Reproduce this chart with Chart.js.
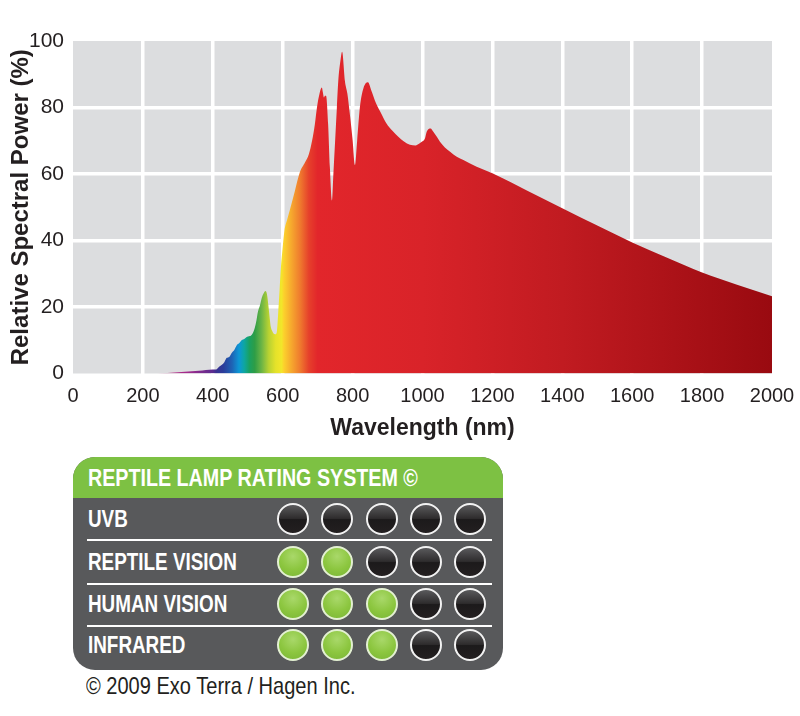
<!DOCTYPE html>
<html>
<head>
<meta charset="utf-8">
<title>Relative Spectral Power</title>
<script src="https://cdn.jsdelivr.net/npm/chart.js@4.4.1/dist/chart.umd.min.js"></script>
<style>
  body {
    margin: 0;
    width: 800px;
    height: 716px;
    background: #fff;
    position: relative;
    overflow: hidden;
    font-family: "Liberation Sans", Arial, sans-serif;
  }
  #chart-wrap { position: absolute; left: 0; top: 0; width: 800px; height: 450px; }
  .narrow { display: inline-block; transform: scaleX(0.82); transform-origin: left center; white-space: nowrap; }
  .rating {
    position: absolute; left: 73px; top: 457px; width: 430px; height: 213px;
    background: #58595b; border-radius: 22px; overflow: hidden;
  }
  .rating-head {
    height: 41px; background: #7dc143; color: #fff;
    font-weight: bold; font-size: 24px; line-height: 42px; padding-left: 15px;
  }
  .rating-row { position: absolute; left: 0; width: 430px; height: 42px; }
  .rating-row .label {
    position: absolute; left: 15px; top: 0; line-height: 42px;
    color: #fff; font-weight: bold; font-size: 23px;
  }
  .rating-sep { position: absolute; left: 14px; width: 405px; height: 1.5px; background: #fff; }
  .dot {
    position: absolute; top: 5px; width: 28px; height: 28px; border-radius: 50%;
    border: 2px solid #f2f2f2; box-sizing: content-box;
  }
  .dot.off {
    background: linear-gradient(to bottom, #5a5a5c 0%, #2e2c2d 48%, #1c1a1b 52%, #231f20 100%);
  }
  .dot.on {
    border-color: #e3f0d2;
    background: radial-gradient(circle at 50% 30%, #a9d86a 0%, #8cc63f 55%, #79b535 100%);
  }
  .footer {
    position: absolute; left: 86px; top: 672px; font-size: 24px; color: #231f20; line-height: 28px;
  }
  .footer .narrow { transform: scaleX(0.835); }
</style>
</head>
<body>
<div id="chart-wrap"><canvas id="spectrum"></canvas></div>
<div class="rating" id="rating">
  <div class="rating-head"><span class="narrow">REPTILE LAMP RATING SYSTEM ©</span></div>
</div>
<div class="footer"><span class="narrow">© 2009 Exo Terra / Hagen Inc.</span></div>
<script>
// Spectrum (nm, % relative power)
const wavelengths = [
  240, 300, 360, 400, 410, 418, 426, 433, 440, 447, 454, 461, 469, 476, 483, 490,
  497, 504, 511, 516, 520, 525, 529, 535, 540, 546, 551, 555, 559, 563, 566, 570,
  574, 579, 583, 587, 591, 595, 600, 605, 612, 620, 635, 649, 664, 675, 684, 692,
  698, 705, 712, 715, 718, 721, 724, 730, 735, 741, 745, 750, 755, 759, 765, 770,
  778, 785, 793, 800, 807, 813, 821, 831, 844, 853, 867, 883, 897, 914, 930, 947,
  964, 980, 990, 998, 1007, 1012, 1023, 1031, 1041, 1050, 1064, 1079, 1098, 1117,
  1155, 1200, 1300, 1400, 1500, 1600, 1700, 1800, 1900, 2000
];
const power = [
  0, 0.4, 0.8, 1.2, 1.2, 2.0, 2.6, 3.4, 4.7, 5.0, 6.2, 7.0, 8.6, 9.2, 10.1, 10.4,
  11.0, 11.2, 11.6, 12.5, 13.7, 16.0, 18.5, 20.5, 22.7, 24.2, 24.8, 23.8, 20.5, 16.5, 14.0, 12.8,
  12.0, 11.8, 12.3, 18.0, 25.0, 32.0, 38.0, 43.0, 46.0, 49.0, 55.0, 60.5, 63.5, 66.0, 70.0, 75.0,
  80.0, 84.0, 86.0, 84.5, 83.0, 83.5, 83.5, 75.0, 62.0, 52.0, 60.0, 70.0, 80.0, 88.0, 94.0, 96.8,
  88.0, 84.2, 77.2, 70.2, 62.7, 70.0, 80.2, 85.8, 87.6, 85.3, 81.3, 78.0, 75.2, 73.0, 71.3, 69.8,
  68.8, 68.6, 69.1, 69.7, 70.7, 72.7, 73.7, 72.7, 71.2, 69.7, 68.0, 66.7, 65.2, 64.2,
  62.2, 60.2, 55.0, 49.7, 44.5, 39.4, 34.8, 30.4, 26.7, 23.2
];

const xTickValues = [0, 200, 400, 600, 800, 1000, 1200, 1400, 1600, 1800, 2000];
const yTickValues = [0, 20, 40, 60, 80, 100];

// colour of the light at each wavelength
const colorStopNm = [240, 330, 400, 410, 430, 455, 475, 490, 505, 520, 540, 560, 580, 597, 603, 625, 650, 675, 700, 1000, 1400, 2000];
const colorStopHex = [
  '#c8307e', '#a02a8c', '#5b2c8f', '#3a3190', '#2b3c9a', '#1e63b5', '#0d97d6', '#0ea6a0',
  '#1aa060', '#2e9d46', '#6db545', '#b8d232', '#e5e22a', '#f2e62a', '#fcd22c', '#f6a82e',
  '#ef7a2e', '#e6402b', '#e2262b', '#d92329', '#c11b21', '#990a10'
];

// Rating panel
const ratingLabels = ['UVB', 'REPTILE VISION', 'HUMAN VISION', 'INFRARED'];
const ratingValues = [0, 2, 3, 3];
const ratingMax = 5;

const FONT = '"Liberation Sans", Arial, sans-serif';
const INK = '#231f20';

// Horizontal spectrum gradient built on the x scale
function spectrumFill(context) {
  const chart = context.chart;
  const area = chart.chartArea;
  if (!area) return '#e2262b';
  const xs = chart.scales.x;
  const g = chart.ctx.createLinearGradient(area.left, 0, area.right, 0);
  const w = area.right - area.left;
  colorStopNm.forEach((nm, i) => {
    const p = (xs.getPixelForValue(nm) - area.left) / w;
    g.addColorStop(Math.min(1, Math.max(0, p)), colorStopHex[i]);
  });
  return g;
}

// Grey plot background
const plotBackground = {
  id: 'plotBackground',
  beforeDraw(chart) {
    const { ctx, chartArea: a } = chart;
    ctx.save();
    ctx.fillStyle = '#dcdddf';
    ctx.fillRect(a.left, a.top, a.right - a.left, a.bottom - a.top);
    ctx.restore();
  }
};

new Chart(document.getElementById('spectrum'), {
  type: 'line',
  data: {
    datasets: [{
      data: wavelengths.map((w, i) => ({ x: w, y: power[i] })),
      fill: 'origin',
      backgroundColor: spectrumFill,
      borderColor: 'rgba(0,0,0,0)',
      borderWidth: 0,
      pointRadius: 0,
      cubicInterpolationMode: 'monotone'
    }]
  },
  options: {
    responsive: true,
    maintainAspectRatio: false,
    animation: false,
    layout: { padding: { top: 41, right: 28, left: 0, bottom: 0 } },
    plugins: { legend: { display: false }, tooltip: { enabled: false } },
    scales: {
      x: {
        type: 'linear',
        min: 0,
        max: 2000,
        z: 1,
        afterBuildTicks: s => { s.ticks = xTickValues.map(v => ({ value: v })); },
        afterFit: s => { s.height = 76.5; s.paddingLeft = 0; s.paddingRight = 0; },
        border: { display: false },
        grid: {
          drawTicks: false,
          lineWidth: 3.5,
          color: c => (c.tick && (c.tick.value === 0 || c.tick.value === 2000)) ? 'rgba(0,0,0,0)' : '#ffffff'
        },
        ticks: { padding: 11, color: INK, font: { family: FONT, size: 20 }, maxRotation: 0, callback: v => String(v) },
        title: {
          display: true,
          text: 'Wavelength (nm)',
          color: INK,
          font: { family: FONT, size: 23, weight: 'bold' },
          padding: { top: 0, bottom: 8 }
        }
      },
      y: {
        min: 0,
        max: 100,
        z: 1,
        afterBuildTicks: s => { s.ticks = yTickValues.map(v => ({ value: v })); },
        afterFit: s => { s.width = 73; s.paddingTop = 0; s.paddingBottom = 0; },
        border: { display: false },
        grid: {
          drawTicks: false,
          lineWidth: 3.5,
          color: c => (c.tick && (c.tick.value === 0 || c.tick.value === 100)) ? 'rgba(0,0,0,0)' : '#ffffff'
        },
        ticks: { padding: 9, color: INK, font: { family: FONT, size: 21 }, callback: v => String(v) },
        title: {
          display: true,
          text: 'Relative Spectral Power (%)',
          color: INK,
          font: { family: FONT, size: 24, weight: 'bold' },
          padding: { top: 7, bottom: 0 }
        }
      }
    }
  },
  plugins: [plotBackground]
});

// Build the rating rows
const panel = document.getElementById('rating');
const rowCenters = [62, 105, 147, 188];
const sepTops = [82, 126, 168];
ratingLabels.forEach((name, r) => {
  const row = document.createElement('div');
  row.className = 'rating-row';
  row.style.top = (rowCenters[r] - 21) + 'px';
  row.innerHTML = `<div class="label"><span class="narrow">${name}</span></div>`;
  for (let i = 0; i < ratingMax; i++) {
    const d = document.createElement('div');
    d.className = 'dot ' + (i < ratingValues[r] ? 'on' : 'off');
    d.style.left = (204 + i * 44.3) + 'px';
    row.appendChild(d);
  }
  panel.appendChild(row);
});
sepTops.forEach(t => {
  const s = document.createElement('div');
  s.className = 'rating-sep';
  s.style.top = t + 'px';
  panel.appendChild(s);
});
</script>
</body>
</html>
